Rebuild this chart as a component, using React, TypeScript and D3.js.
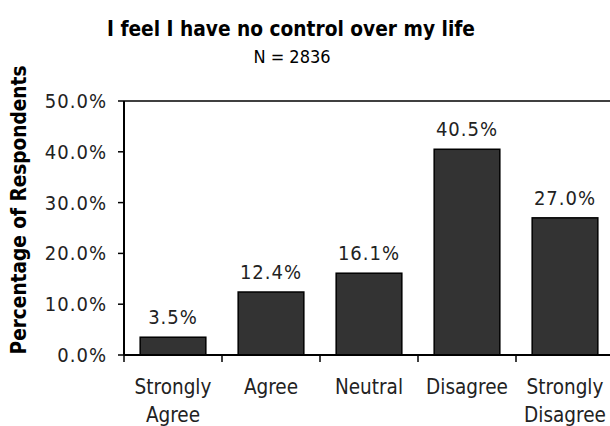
import * as d3 from 'd3';

const categories = ['Strongly Agree', 'Agree', 'Neutral', 'Disagree', 'Strongly Disagree'];
const values = [0.035, 0.124, 0.161, 0.405, 0.27];
const yTicks = [0, 0.1, 0.2, 0.3, 0.4, 0.5];

const FONT = '"DejaVu Sans Condensed", "DejaVu Sans", sans-serif';

export default function App() {
  const width = 610;
  const height = 426;

  // plot area
  const left = 124;
  const right = 614;
  const top = 101;
  const bottom = 355;

  const x = d3.scaleBand<string>().domain(categories).range([left, right]).paddingInner(0.33).paddingOuter(0.165);
  const y = d3.scaleLinear().domain([0, 0.5]).range([bottom, top]);
  const fmt = d3.format('.1%');

  const step = x.step();
  const boundaries = d3.range(categories.length + 1).map((i) => left + i * step);

  return (
    <svg width={width} height={height} style={{ position: 'absolute', left: 0, top: 0, background: '#fff' }} fontFamily={FONT}>
      <text x={291} y={36} textAnchor="middle" fontWeight="bold" fontSize={20.7}>
        I feel I have no control over my life
      </text>
      <text x={292} y={63} textAnchor="middle" fontSize={18}>
        N = 2836
      </text>

      <text transform={`translate(26,210) rotate(-90)`} textAnchor="middle" fontWeight="bold" fontSize={20.6}>
        Percentage of Respondents
      </text>

      {/* top frame line */}
      <line x1={left} x2={right} y1={top} y2={top} stroke="#000" strokeWidth={1.5} />

      {categories.map((c, i) => (
        <g key={c}>
          <rect
            x={x(c)}
            y={y(values[i])}
            width={x.bandwidth()}
            height={bottom - y(values[i])}
            fill="#333333"
            stroke="#000"
            strokeWidth={1.5}
          />
          <text
            x={(x(c) ?? 0) + x.bandwidth() / 2}
            y={y(values[i]) - 13}
            textAnchor="middle"
            fontSize={20}
            letterSpacing={1}
            fill="#222"
          >
            {fmt(values[i])}
          </text>
        </g>
      ))}

      {/* y axis */}
      <line x1={left} x2={left} y1={top} y2={bottom} stroke="#000" strokeWidth={2} />
      {yTicks.map((t) => (
        <g key={t}>
          <line x1={left - 6} x2={left} y1={y(t)} y2={y(t)} stroke="#000" strokeWidth={1.5} />
          <text x={107} y={y(t) + 7} textAnchor="end" fontSize={20} letterSpacing={1} fill="#222">
            {fmt(t)}
          </text>
        </g>
      ))}

      {/* x axis */}
      <line x1={left} x2={right} y1={bottom} y2={bottom} stroke="#000" strokeWidth={2} />
      {boundaries.map((b, i) => (
        <line key={i} x1={b} x2={b} y1={bottom} y2={bottom + 7} stroke="#000" strokeWidth={1.5} />
      ))}
      {categories.map((c) => {
        const words = c.split(' ');
        const cx = (x(c) ?? 0) + x.bandwidth() / 2;
        return (
          <text key={c} x={cx} y={394} textAnchor="middle" fontSize={20.5} fill="#222">
            {words.map((w, j) => (
              <tspan key={j} x={cx} dy={j === 0 ? 0 : 27.5}>
                {w}
              </tspan>
            ))}
          </text>
        );
      })}
    </svg>
  );
}
